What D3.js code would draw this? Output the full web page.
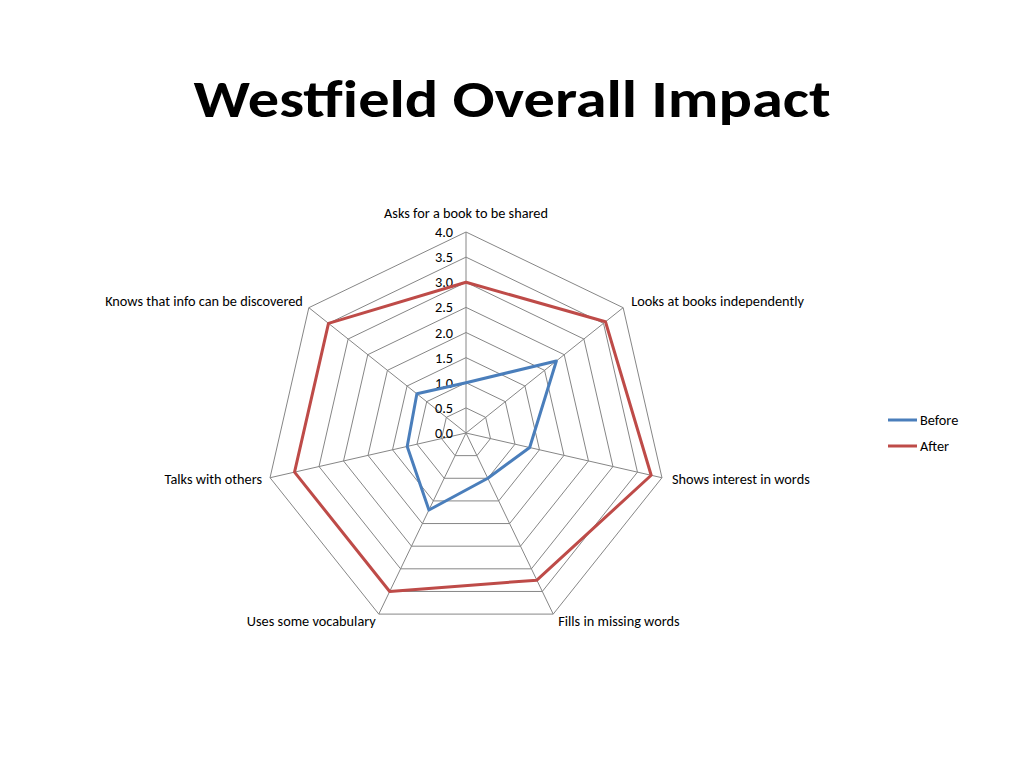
<!DOCTYPE html>
<html><head><meta charset="utf-8">
<script src="https://cdn.jsdelivr.net/npm/d3@7"></script>
<style>body{margin:0;background:#fff}svg{display:block}</style>
</head><body>
<svg id="c" width="1024" height="768"></svg>
<script>
const categories = ["Asks for a book to be shared","Looks at books independently","Shows interest in words","Fills in missing words","Uses some vocabulary","Talks with others","Knows that info can be discovered"];
const before = [1.0, 2.3, 1.3, 1.0, 1.7, 1.2, 1.25];
const after = [3.0, 3.55, 3.78, 3.25, 3.5, 3.5, 3.5];
const ticks = [0,0.5,1,1.5,2,2.5,3,3.5,4];
const seriesNames = ["Before","After"];
const colors = ["#4A7EBB","#BE4B48"];

const svg = d3.select("#c");
const font = "Carlito, Calibri, 'Liberation Sans', sans-serif";
const fs = 14.3;
const cx = 466, cy = 433;
const r = d3.scaleLinear().domain([0,4]).range([0,201]);
const ang = d3.scalePoint().domain(d3.range(categories.length+1)).range([0, 2*Math.PI]);
const pt = (i,v)=>[cx + r(v)*Math.sin(ang(i)), cy - r(v)*Math.cos(ang(i))];

svg.append("text").attr("x",512).attr("y",117).attr("text-anchor","middle")
  .attr("font-family",font).attr("font-weight","bold").attr("font-size",52)
  .attr("textLength",637).attr("lengthAdjust","spacingAndGlyphs")
  .text("Westfield Overall Impact");

const g = svg.append("g");
ticks.slice(1).forEach(t=>{
  g.append("polygon").attr("points", categories.map((c,i)=>pt(i,t).join(",")).join(" "))
    .attr("fill","none").attr("stroke","#868686").attr("stroke-width",1);
});
categories.forEach((c,i)=>{
  const p = pt(i,4);
  g.append("line").attr("x1",cx).attr("y1",cy).attr("x2",p[0]).attr("y2",p[1])
    .attr("stroke","#868686").attr("stroke-width",1);
});
ticks.forEach(t=>{
  g.append("text").attr("x",cx-13).attr("y",cy - r(t)).attr("dy","0.35em")
    .attr("text-anchor","end").attr("font-family",font).attr("font-size",fs).attr("fill","#000")
    .text(d3.format(".1f")(t));
});
const labelPos = [
  {dx:0, dy:-19, anchor:"middle"},
  {dx:8, dy:-7, anchor:"start"},
  {dx:10, dy:1, anchor:"start"},
  {dx:5, dy:7, anchor:"start"},
  {dx:-3, dy:7, anchor:"end"},
  {dx:-8, dy:1, anchor:"end"},
  {dx:-6, dy:-7, anchor:"end"}
];
categories.forEach((c,i)=>{
  const p = pt(i,4), lp = labelPos[i];
  g.append("text").attr("x",p[0]+lp.dx).attr("y",p[1]+lp.dy).attr("dy","0.35em")
    .attr("text-anchor",lp.anchor).attr("font-family",font).attr("font-size",fs)
    .text(c);
});
const line = d3.lineRadial().angle((d,i)=>ang(i)).radius(d=>r(d)).curve(d3.curveLinearClosed);
[before, after].forEach((s,k)=>{
  g.append("path").attr("transform",`translate(${cx},${cy})`).attr("d",line(s))
    .attr("fill","none").attr("stroke",colors[k]).attr("stroke-width",3).attr("stroke-linejoin","round");
});
seriesNames.forEach((n,k)=>{
  const y = 420 + k*26;
  svg.append("line").attr("x1",888).attr("x2",917).attr("y1",y).attr("y2",y)
    .attr("stroke",colors[k]).attr("stroke-width",3);
  svg.append("text").attr("x",920).attr("y",y).attr("dy","0.35em")
    .attr("font-family",font).attr("font-size",fs).text(n);
});
</script>
</body></html>
